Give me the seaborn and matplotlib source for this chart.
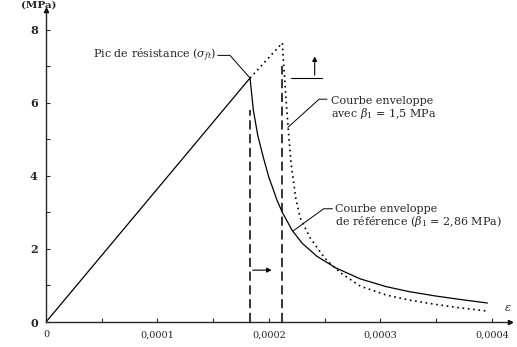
import numpy as np
import pandas as pd
import matplotlib.pyplot as plt
import seaborn as sns

# courbe de référence (beta1 = 2,86 MPa)
eps_ref = [0, 0.000183, 0.000186, 0.00019, 0.000195, 0.0002, 0.000203, 0.000207,
           0.000212, 0.000221, 0.00023, 0.000243, 0.00026, 0.000282, 0.000305,
           0.000326, 0.00035, 0.000371, 0.000396]
sig_ref = [0, 6.68, 5.8, 5.1, 4.5, 3.95, 3.7, 3.35,
           3.0, 2.5, 2.15, 1.8, 1.48, 1.18, 0.97,
           0.83, 0.71, 0.62, 0.52]

# courbe avec beta1 = 1,5 MPa
eps_b15 = [0.000183, 0.000212, 0.000213, 0.000214, 0.000216, 0.000218, 0.00022,
           0.000224, 0.000228, 0.000237, 0.00025, 0.000264, 0.000282, 0.000305,
           0.000326, 0.00035, 0.000371, 0.000396]
sig_b15 = [6.68, 7.64, 7.1, 6.7, 5.8, 5.0, 4.3,
           3.4, 2.85, 2.3, 1.75, 1.35, 0.98, 0.74,
           0.6, 0.48, 0.39, 0.3]

x_ticks = [0, 0.0001, 0.0002, 0.0003, 0.0004]
x_labels = ["0", "0,0001", "0,0002", "0,0003", "0,0004"]
y_ticks = [0, 2, 4, 6, 8]


def main():
    sns.set_style("ticks")
    plt.rcParams['font.family'] = ['DejaVu Serif']
    plt.rcParams['mathtext.fontset'] = 'dejavuserif'

    fig = plt.figure(figsize=(5.17, 3.47), dpi=100)
    ax = fig.add_axes([0.089, 0.072, 0.897, 0.9])

    ref = pd.DataFrame({"eps": eps_ref, "sig": sig_ref})
    b15 = pd.DataFrame({"eps": eps_b15, "sig": sig_b15})
    sns.lineplot(data=ref, x="eps", y="sig", ax=ax, color="black", lw=0.9,
                 sort=False, estimator=None)
    sns.lineplot(data=b15, x="eps", y="sig", ax=ax, color="black", lw=1.2,
                 ls=(0, (1, 2.2)), sort=False, estimator=None)

    # verticales en tirets
    ax.plot([0.000183, 0.000183], [0, 5.8], color="black", lw=1.1, ls=(0, (6, 3)))
    ax.plot([0.000212, 0.000212], [0, 7.0], color="black", lw=1.1, ls=(0, (6, 3)))

    # flèches
    ax.annotate("", xy=(0.000205, 1.42), xytext=(0.000183, 1.42),
                arrowprops=dict(arrowstyle="-|>", color="black", lw=0.8,
                                mutation_scale=7))
    ax.plot([0.00022, 0.000248], [6.68, 6.68], color="black", lw=0.8)
    ax.annotate("", xy=(0.000241, 7.35), xytext=(0.000241, 6.68),
                arrowprops=dict(arrowstyle="-|>", color="black", lw=0.8,
                                mutation_scale=7))

    # légendes avec traits de rappel
    fs = 8
    ax.text(0.000153, 7.3, r"Pic de résistance ($\sigma_{ft}$)", fontsize=fs,
            ha="right", va="center")
    ax.plot([0.000154, 0.000165, 0.000183], [7.3, 7.3, 6.68], color="black", lw=0.7)

    ax.text(0.000256, 5.85, "Courbe enveloppe\navec $\\beta_1$ = 1,5 MPa",
            fontsize=fs, va="center", ha="left", linespacing=1.0)
    ax.plot([0.000252, 0.000245, 0.000217], [6.1, 6.1, 5.33], color="black", lw=0.7)

    ax.text(0.000259, 2.9, "Courbe enveloppe\nde référence ($\\beta_1$ = 2,86 MPa)",
            fontsize=fs, va="center", ha="left", linespacing=1.0)
    ax.plot([0.000257, 0.000249, 0.000222], [3.1, 3.1, 2.5], color="black", lw=0.7)

    ax.set_xlim(0, 0.000416)
    ax.set_ylim(0, 8.55)
    ax.set_xticks(x_ticks)
    ax.set_xticklabels(x_labels, fontsize=7)
    ax.set_xticks(np.arange(0, 0.00041, 0.00005), minor=True)
    ax.set_yticks(y_ticks)
    ax.set_yticklabels([str(v) for v in y_ticks], fontsize=8, fontweight="bold")
    ax.set_yticks(range(0, 9), minor=True)
    ax.tick_params(direction="in", length=3, width=0.8, which="both", pad=6)
    ax.set_xlabel("")
    ax.set_ylabel("")
    sns.despine(ax=ax)
    for s in ["left", "bottom"]:
        ax.spines[s].set_linewidth(1.0)

    # pointes des axes
    ax.plot(1, 0, ">k", transform=ax.transAxes, clip_on=False, ms=3)
    ax.plot(0, 1, "^k", transform=ax.transAxes, clip_on=False, ms=3)
    ax.text(0.995, 0.03, r"$\varepsilon$", transform=ax.transAxes, fontsize=8,
            ha="center", va="bottom")
    fig.text(0.04, 0.998, "(MPa)", fontsize=7.5, fontweight="bold",
             ha="left", va="top")

    fig.savefig("out.png", dpi=100)


if __name__ == "__main__":
    main()
